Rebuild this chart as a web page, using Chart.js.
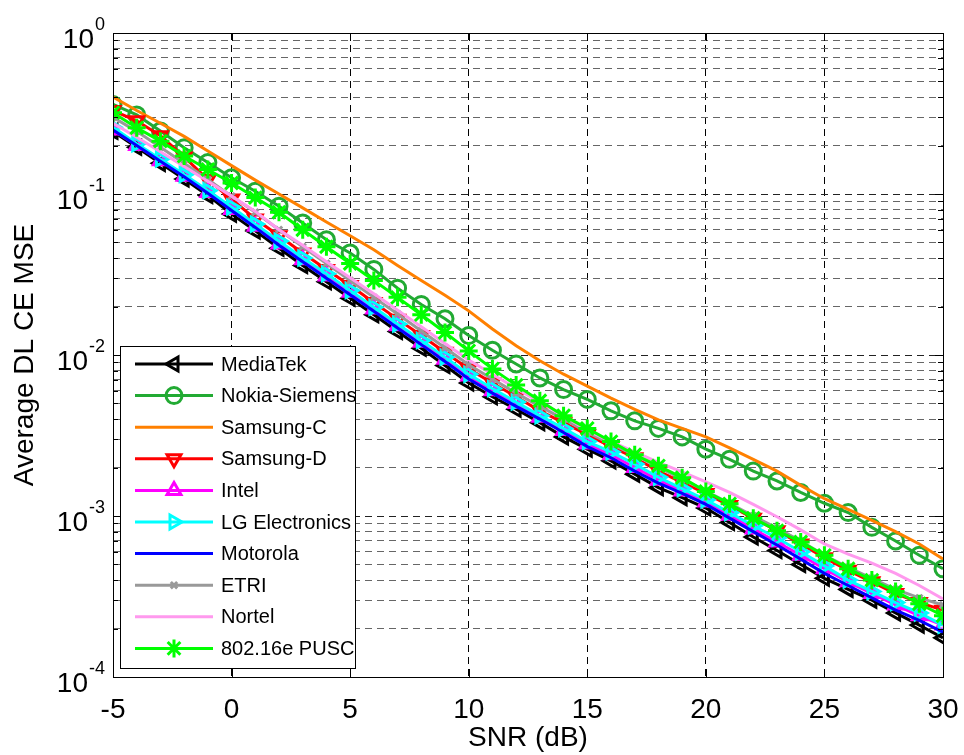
<!DOCTYPE html>
<html>
<head>
<meta charset="utf-8">
<script src="https://cdn.jsdelivr.net/npm/chart.js@4.4.0/dist/chart.umd.min.js"></script>
<style>
  html, body { margin: 0; padding: 0; background: #fff; }
  #myChart { display: block; }
</style>
</head>
<body>
<canvas id="myChart" width="964" height="755"></canvas>
<script>
// SNR axis (dB)
var snr = [-5, -4, -3, -2, -1, 0, 1, 2, 3, 4, 5, 6, 7, 8, 9, 10, 11, 12, 13, 14, 15,
  16, 17, 18, 19, 20, 21, 22, 23, 24, 25, 26, 27, 28, 29, 30];

// MSE per proposal
var mediaTek = [0.245, 0.195, 0.155, 0.124, 0.098, 0.075, 0.059, 0.046, 0.036, 0.0285,
  0.0225, 0.0178, 0.014, 0.011, 0.0086, 0.0067, 0.0055, 0.0046, 0.0038, 0.0031,
  0.0026, 0.0022, 0.00182, 0.0015, 0.0013, 0.00112, 0.00091, 0.00074, 0.00061, 0.0005,
  0.00041, 0.00035, 0.0003, 0.00025, 0.00021, 0.000175];
var nokiaSiemens = [0.36, 0.31, 0.246, 0.194, 0.157, 0.126, 0.104, 0.084, 0.066, 0.052,
  0.043, 0.034, 0.026, 0.0206, 0.0168, 0.0132, 0.0107, 0.0088, 0.0072, 0.0061,
  0.0053, 0.0045, 0.0039, 0.0035, 0.0031, 0.0026, 0.00225, 0.0019, 0.00165, 0.0014,
  0.0012, 0.00105, 0.00085, 0.0007, 0.00057, 0.00047];
var samsungC = [0.4, 0.33, 0.275, 0.228, 0.185, 0.15, 0.122, 0.1, 0.082, 0.067,
  0.055, 0.045, 0.036, 0.029, 0.0235, 0.0188, 0.0145, 0.0114, 0.0092, 0.0076,
  0.0064, 0.0054, 0.0046, 0.00395, 0.0035, 0.0031, 0.00265, 0.00225, 0.0019, 0.00155,
  0.00128, 0.0011, 0.00094, 0.0008, 0.00067, 0.00054];
var samsungD = [0.33, 0.285, 0.23, 0.17, 0.123, 0.093, 0.07, 0.055, 0.043, 0.034,
  0.027, 0.0212, 0.0167, 0.0132, 0.0104, 0.0082, 0.0067, 0.0055, 0.0045, 0.0038,
  0.0032, 0.0027, 0.0023, 0.0019, 0.00162, 0.00138, 0.00116, 0.00097, 0.00081, 0.00067,
  0.00055, 0.00046, 0.00039, 0.00033, 0.00029, 0.00026];
var intel = [0.25, 0.2, 0.161, 0.129, 0.102, 0.08, 0.063, 0.049, 0.039, 0.031,
  0.0245, 0.0193, 0.0152, 0.012, 0.0094, 0.0074, 0.006, 0.005, 0.0041, 0.0034,
  0.0028, 0.0024, 0.002, 0.00167, 0.00143, 0.00122, 0.00101, 0.00083, 0.00069, 0.00057,
  0.00047, 0.00039, 0.00033, 0.00028, 0.00024, 0.00021];
var lgElectronics = [0.26, 0.205, 0.165, 0.132, 0.105, 0.083, 0.065, 0.051, 0.04, 0.032,
  0.0252, 0.0198, 0.0156, 0.0123, 0.0097, 0.0076, 0.0062, 0.0051, 0.0042, 0.0035,
  0.0029, 0.0025, 0.0021, 0.00174, 0.00148, 0.00126, 0.00105, 0.00087, 0.00073, 0.0006,
  0.00049, 0.0004, 0.00034, 0.00029, 0.00025, 0.00021];
var motorola = [0.25, 0.2, 0.16, 0.128, 0.101, 0.079, 0.062, 0.048, 0.038, 0.03,
  0.0237, 0.0187, 0.0147, 0.0116, 0.0091, 0.0071, 0.0058, 0.0048, 0.004, 0.0033,
  0.0027, 0.0023, 0.0019, 0.0016, 0.00138, 0.00118, 0.00097, 0.0008, 0.00066, 0.00054,
  0.00044, 0.00037, 0.00031, 0.00026, 0.000225, 0.00019];
var etri = [0.3, 0.245, 0.195, 0.155, 0.123, 0.097, 0.077, 0.06, 0.047, 0.037,
  0.029, 0.0228, 0.018, 0.0141, 0.0111, 0.0087, 0.0071, 0.0058, 0.0048, 0.004,
  0.0033, 0.0028, 0.0024, 0.002, 0.0017, 0.00143, 0.0012, 0.001, 0.00084, 0.0007,
  0.00057, 0.00048, 0.00041, 0.00035, 0.00031, 0.00028];
var nortel = [0.275, 0.225, 0.183, 0.148, 0.12, 0.097, 0.078, 0.06, 0.048, 0.038,
  0.0302, 0.024, 0.019, 0.015, 0.0118, 0.0093, 0.0076, 0.0062, 0.0051, 0.0042,
  0.0034, 0.0029, 0.0025, 0.00215, 0.00188, 0.00163, 0.0014, 0.00118, 0.00099, 0.00082,
  0.00067, 0.00058, 0.00051, 0.00044, 0.00037, 0.000305];
var pusc = [0.32, 0.258, 0.213, 0.172, 0.142, 0.117, 0.095, 0.077, 0.06, 0.047,
  0.037, 0.029, 0.0228, 0.0178, 0.0138, 0.0106, 0.0082, 0.0065, 0.0052, 0.0042,
  0.0035, 0.0029, 0.0024, 0.00205, 0.00173, 0.00142, 0.00119, 0.00097, 0.00081, 0.00069,
  0.00057, 0.00047, 0.0004, 0.00034, 0.000285, 0.00024];

// tick labels
var xTicks = [-5, 0, 5, 10, 15, 20, 25, 30];
var yDecades = [1e-4, 1e-3, 1e-2, 1e-1, 1];
var yExponents = ['-4', '-3', '-2', '-1', '0'];

var fontFam = '"Liberation Sans", Arial, Helvetica, sans-serif';

function pts(arr) {
  return snr.map(function (x, i) { return { x: x, y: arr[i] }; });
}

function serie(label, arr, color, style, rot, r, bw) {
  return {
    label: label,
    data: pts(arr),
    borderColor: color,
    borderWidth: 3,
    pointStyle: style || 'circle',
    pointRotation: rot || 0,
    pointRadius: style ? r : 0,
    pointBorderColor: color,
    pointBackgroundColor: 'rgba(0,0,0,0)',
    pointBorderWidth: bw || 2.5,
    tension: 0,
    fill: false
  };
}

var datasets = [
  serie('MediaTek', mediaTek, '#000000', 'triangle', -90, 8, 3),
  serie('Nokia-Siemens', nokiaSiemens, '#22aa33', 'circle', 0, 8, 3),
  serie('Samsung-C', samsungC, '#ff8000', null, 0, 0),
  serie('Samsung-D', samsungD, '#ff0000', 'triangle', 180, 8, 3),
  serie('Intel', intel, '#ff00ff', 'triangle', 0, 8, 3),
  serie('LG Electronics', lgElectronics, '#00ffff', 'triangle', 90, 8, 3),
  serie('Motorola', motorola, '#0000ff', null, 0, 0),
  serie('ETRI', etri, '#999999', 'crossRot', 0, 4.5, 3),
  serie('Nortel', nortel, '#ff99ee', null, 0, 0),
  serie('802.16e PUSC', pusc, '#00ff00', 'star', 0, 9, 3)
];
// later series on top, like the original
datasets.forEach(function (d, i) { d.order = datasets.length - i; });

function isDecade(v) {
  var l = Math.log10(v);
  return Math.abs(l - Math.round(l)) < 1e-9;
}

// frame, inward ticks, y labels with superscripts, boxed legend
var decorPlugin = {
  id: 'decor',
  afterDraw: function (chart) {
    var ctx = chart.ctx;
    var a = chart.chartArea;
    var xs = chart.scales.x, ys = chart.scales.y;
    ctx.save();

    ctx.strokeStyle = '#000';
    ctx.lineWidth = 1;
    ctx.setLineDash([]);
    ctx.beginPath();
    xs.ticks.forEach(function (t) {
      var px = Math.round(xs.getPixelForValue(t.value)) + 0.5;
      ctx.moveTo(px, a.bottom); ctx.lineTo(px, a.bottom - 8);
      ctx.moveTo(px, a.top); ctx.lineTo(px, a.top + 8);
    });
    ys.ticks.forEach(function (t) {
      var py = Math.round(ys.getPixelForValue(t.value)) + 0.5;
      var len = isDecade(t.value) ? 8 : 5;
      ctx.moveTo(a.left, py); ctx.lineTo(a.left + len, py);
      ctx.moveTo(a.right, py); ctx.lineTo(a.right - len, py);
    });
    ctx.stroke();
    ctx.strokeRect(Math.round(a.left) + 0.5, Math.round(a.top) + 0.5,
      Math.round(a.right - a.left), Math.round(a.bottom - a.top));

    // y tick labels 10^n
    ctx.fillStyle = '#000';
    ctx.textBaseline = 'middle';
    yDecades.forEach(function (v, i) {
      var py = ys.getPixelForValue(v);
      ctx.font = '18px ' + fontFam;
      var ew = ctx.measureText(yExponents[i]).width;
      var xe = 105 - ew;
      ctx.textAlign = 'left';
      ctx.fillText(yExponents[i], xe, py - 8);
      ctx.font = '28px ' + fontFam;
      ctx.textAlign = 'right';
      ctx.fillText('10', xe - 1, py + 7);
    });

    // legend box
    var lx = 120, ly = 346, lw = 235, lh = 322;
    ctx.fillStyle = '#fff';
    ctx.fillRect(lx, ly, lw, lh);
    ctx.strokeStyle = '#000';
    ctx.lineWidth = 1;
    ctx.strokeRect(lx + 0.5, ly + 0.5, lw, lh);
    chart.data.datasets.forEach(function (ds, i) {
      var y = 364 + i * 31.6;
      ctx.strokeStyle = ds.borderColor;
      ctx.lineWidth = ds.borderWidth;
      ctx.beginPath();
      ctx.moveTo(135, y); ctx.lineTo(213, y);
      ctx.stroke();
      if (ds.pointRadius > 0 && Chart.helpers && Chart.helpers.drawPoint) {
        ctx.lineWidth = ds.pointBorderWidth;
        ctx.strokeStyle = ds.pointBorderColor;
        ctx.fillStyle = 'rgba(0,0,0,0)';
        Chart.helpers.drawPoint(ctx, {
          pointStyle: ds.pointStyle,
          rotation: ds.pointRotation,
          radius: ds.pointRadius,
          borderWidth: ds.pointBorderWidth
        }, 174, y);
      }
      ctx.fillStyle = '#000';
      ctx.font = '20px ' + fontFam;
      ctx.textAlign = 'left';
      ctx.textBaseline = 'middle';
      ctx.fillText(ds.label, 221, y + 1);
    });
    ctx.restore();
  }
};

var ctx = document.getElementById('myChart').getContext('2d');

var myChart = new Chart(ctx, {
  type: 'line',
  data: { datasets: datasets },
  options: {
    responsive: false,
    animation: false,
    devicePixelRatio: 1,
    layout: { padding: { top: 33, right: 21, left: 0, bottom: 0 } },
    plugins: {
      legend: { display: false },
      tooltip: { enabled: false }
    },
    scales: {
      x: {
        type: 'linear',
        min: -5,
        max: 30,
        afterBuildTicks: function (s) {
          s.ticks = xTicks.map(function (v) { return { value: v }; });
        },
        afterFit: function (s) {
          s.height = 78;
          s.paddingLeft = 0;
          s.paddingRight = 0;
        },
        grid: { color: '#000', lineWidth: 1, drawTicks: false },
        border: { display: false, dash: [7, 5] },
        ticks: {
          color: '#000',
          font: { size: 28, family: fontFam },
          padding: 16,
          maxRotation: 0,
          autoSkip: false
        },
        title: {
          display: true,
          text: 'SNR (dB)',
          color: '#000',
          font: { size: 28, family: fontFam },
          padding: { top: 0, bottom: 0 }
        }
      },
      y: {
        type: 'logarithmic',
        min: 1e-4,
        max: 1,
        afterBuildTicks: function (s) {
          var t = [];
          for (var e = -4; e < 0; e++) {
            for (var m = 1; m <= 9; m++) t.push({ value: m * Math.pow(10, e) });
          }
          t.push({ value: 1 });
          s.ticks = t;
        },
        afterFit: function (s) {
          s.width = 113;
          s.paddingTop = 0;
          s.paddingBottom = 0;
        },
        grid: {
          drawTicks: false,
          lineWidth: 1,
          color: function (c) {
            return c.tick && isDecade(c.tick.value) ? '#222' : '#666';
          }
        },
        border: { display: false, dash: [7, 5] },
        ticks: { display: false },
        title: {
          display: true,
          text: 'Average DL CE MSE',
          color: '#000',
          font: { size: 28, family: fontFam },
          padding: { top: 8, bottom: 0 }
        }
      }
    }
  },
  plugins: [decorPlugin]
});
</script>
</body>
</html>
